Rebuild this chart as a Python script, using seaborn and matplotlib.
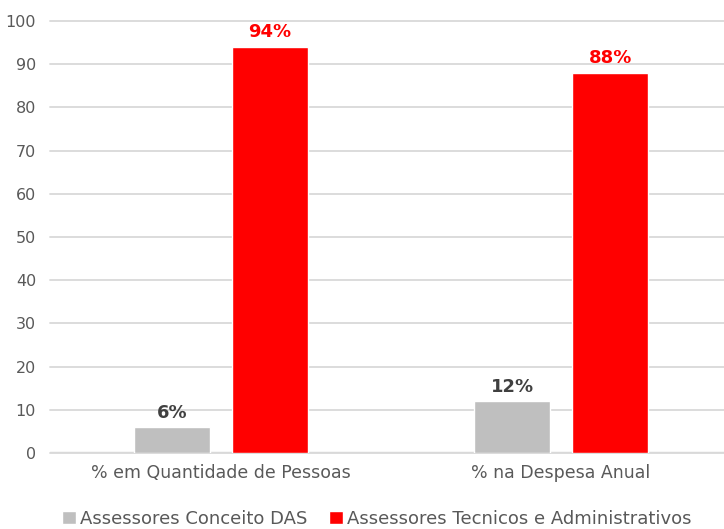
import pandas as pd
import seaborn as sns
import matplotlib.pyplot as plt

# Chart data
categories = ['% em Quantidade de Pessoas', '% na Despesa Anual']
series_names = ['Assessores Conceito DAS', 'Assessores Tecnicos e Administrativos']
das_values = [6, 12]
tecnicos_values = [94, 88]
colors = ['#BFBFBF', '#FF0000']
label_colors = ['#404040', '#FF0000']

df = pd.DataFrame({
    'categoria': categories * 2,
    'serie': [series_names[0]] * 2 + [series_names[1]] * 2,
    'valor': das_values + tecnicos_values,
})

sns.set_style('white')
plt.rcParams['font.family'] = ['Liberation Sans Narrow', 'DejaVu Sans']

fig = plt.figure(figsize=(7.24, 5.29), dpi=100)
ax = fig.add_axes([50 / 724, 1 - 453 / 529, 674 / 724, 432 / 529])

sns.barplot(data=df, x='categoria', y='valor', hue='serie',
            hue_order=series_names, palette=colors,
            width=0.576, gap=0.22, ax=ax, errorbar=None, saturation=1)

# value labels above bars
for cont, col in zip(ax.containers, label_colors):
    ax.bar_label(cont, labels=[f'{v:.0f}%' for v in cont.datavalues],
                 padding=4, color=col, fontsize=13, fontweight='bold',
                 family='DejaVu Sans')

ax.set_ylim(0, 100)
ax.set_yticks(range(0, 101, 10))
ax.set_xlim(-0.503, 1.479)
ax.yaxis.grid(True, color='#D9D9D9', linewidth=1.3)
for gl in ax.get_ygridlines():
    gl.set_clip_on(False)
ax.set_axisbelow(True)
ax.axhline(0, color='#D9D9D9', linewidth=2.5, zorder=0.5)
for s in ax.spines.values():
    s.set_visible(False)
ax.set_xlabel('')
ax.set_ylabel('')
ax.tick_params(axis='y', length=0, pad=10, labelsize=11.5, labelcolor='#595959')
ax.tick_params(axis='x', length=0, pad=8, labelsize=12.5, labelcolor='#595959')

handles, labels = ax.get_legend_handles_labels()
ax.legend(handles, labels, loc='center', bbox_to_anchor=(377 / 724, 10 / 529),
          bbox_transform=fig.transFigure, ncol=2, frameon=False,
          fontsize=13, handlelength=0.75, handleheight=0.75,
          handletextpad=0.25, columnspacing=1.2, labelcolor='#595959')

fig.savefig('out.png', dpi=100)
